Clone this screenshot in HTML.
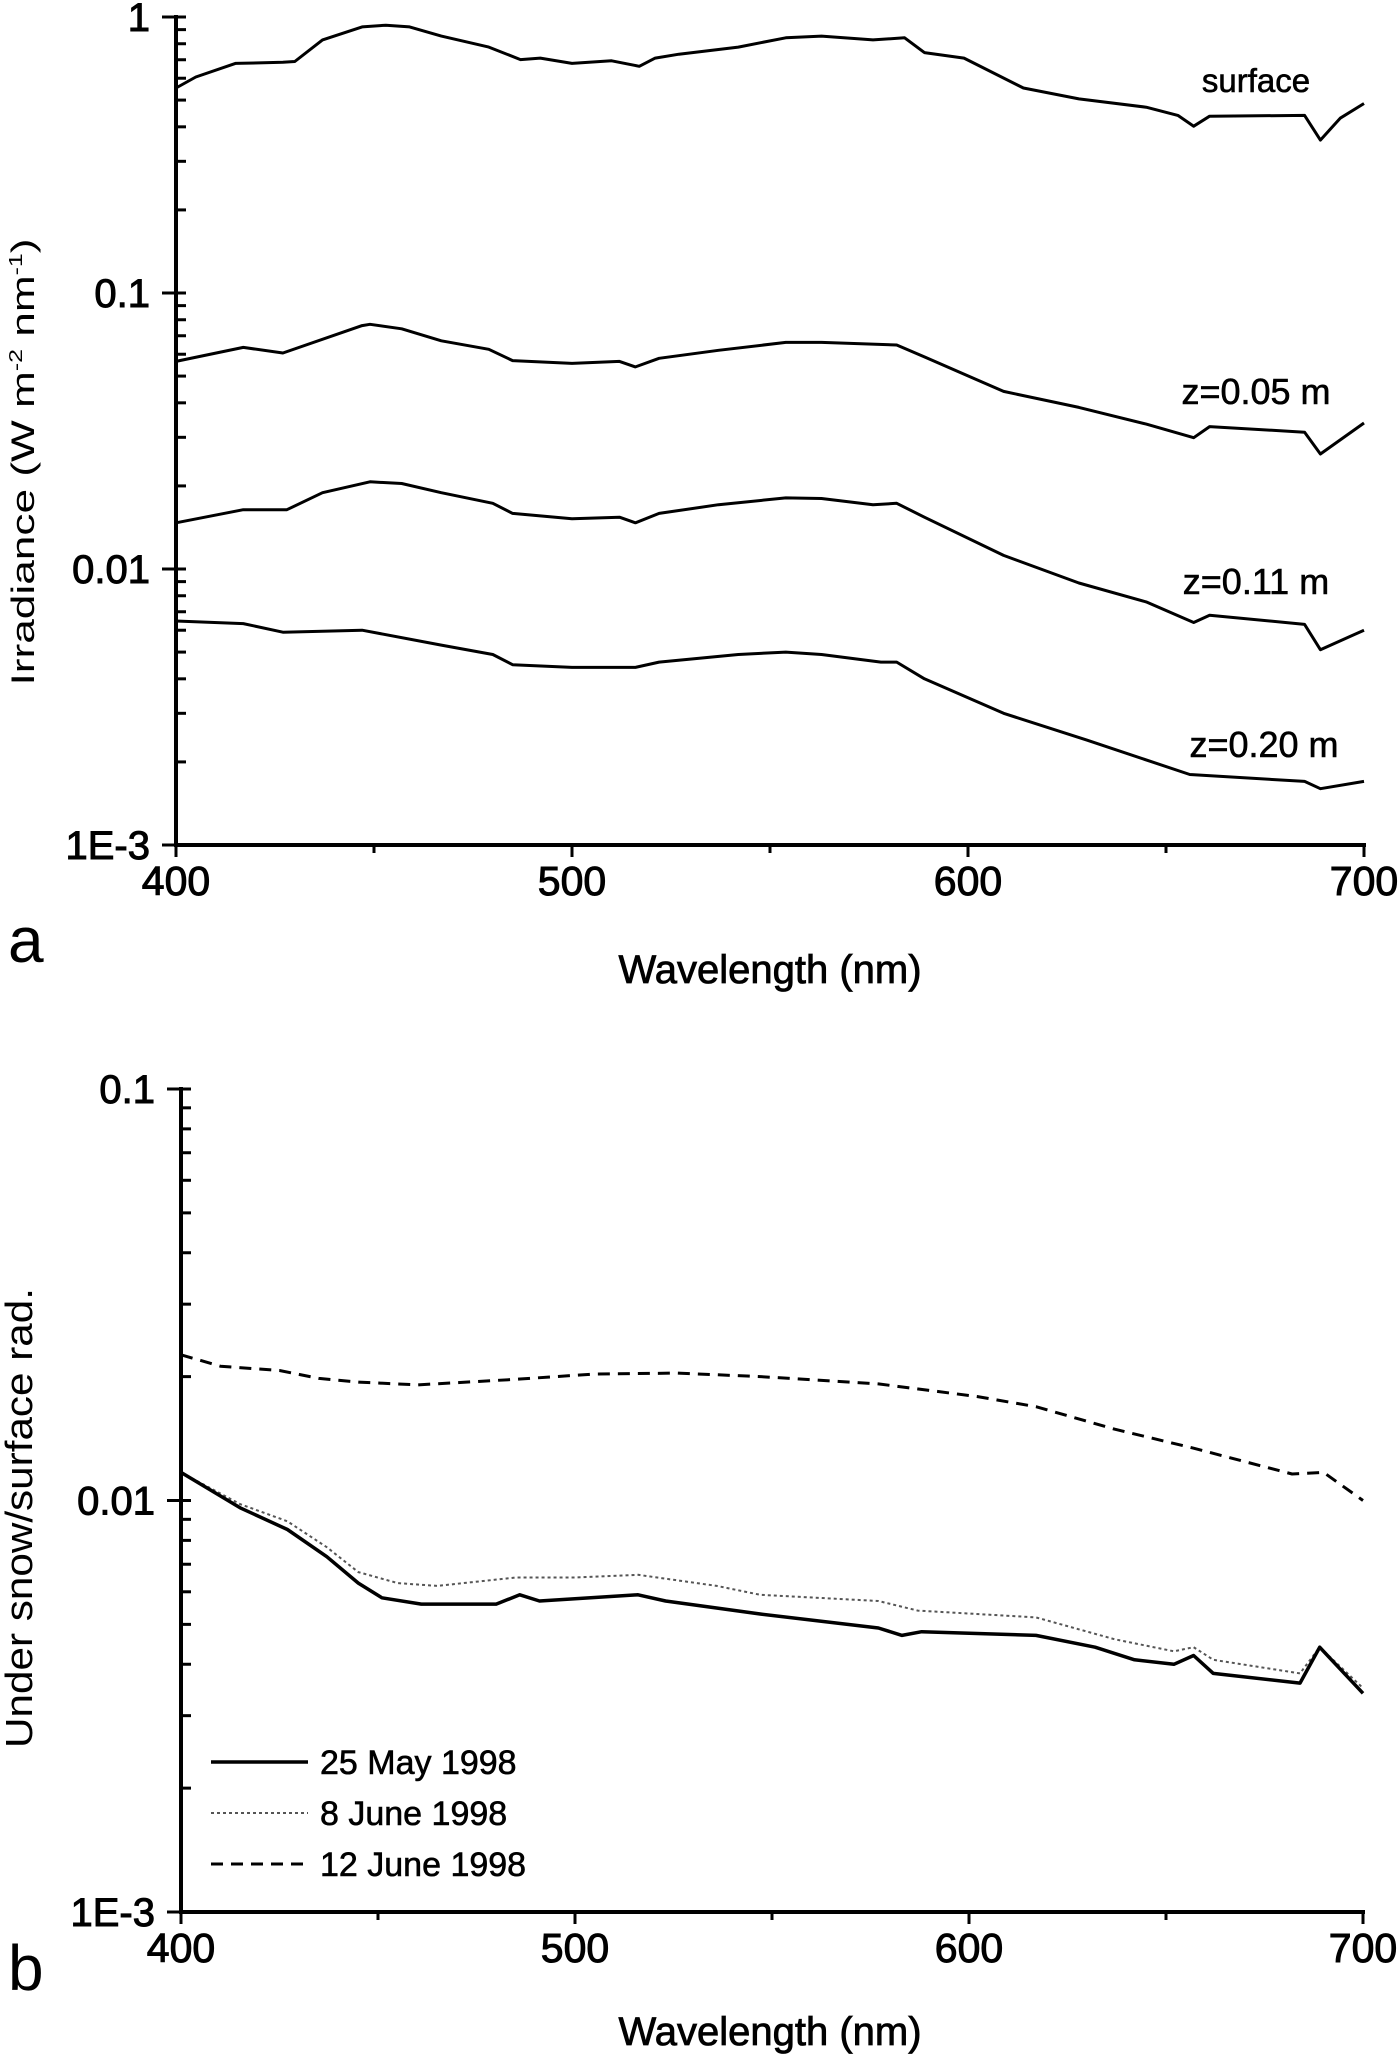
<!DOCTYPE html>
<html><head><meta charset="utf-8"><style>
html,body{margin:0;padding:0;background:#fff}
svg{display:block;font-family:"Liberation Sans",Arial,sans-serif}
</style></head><body>
<svg id="fig" width="1400" height="2062" viewBox="0 0 1400 2062" xmlns="http://www.w3.org/2000/svg">
<g id="pa"></g>
<g id="pb"></g>
</svg>
<script>
// Panel a data (wavelength nm, irradiance W m-2 nm-1)
const aSurfX=[400,405,415,427,430,437,447,453,459,467,479,487,492,500,510,517,521,527,542,554,563,576,584,589,599,614,628,645,653,657,661,685,689,694,700];
const aSurfY=[0.553,0.606,0.679,0.685,0.69,0.826,0.921,0.934,0.921,0.853,0.778,0.701,0.71,0.679,0.694,0.663,0.71,0.733,0.778,0.841,0.853,0.826,0.841,0.743,0.71,0.553,0.505,0.471,0.44,0.402,0.437,0.44,0.358,0.43,0.486];
const a05X=[400,417,427,447,449,457,467,479,485,500,512,516,522,537,554,563,582,589,609,628,645,657,661,685,689,700];
const a05Y=[0.0565,0.0635,0.0606,0.0762,0.077,0.0742,0.0671,0.0625,0.0569,0.0556,0.0565,0.054,0.058,0.062,0.0662,0.0662,0.0648,0.0587,0.044,0.0385,0.0335,0.0299,0.0328,0.0313,0.0261,0.0338];
const a11X=[400,417,428,437,449,457,467,480,485,500,512,516,522,537,554,563,576,582,589,609,628,645,657,661,685,689,700];
const a11Y=[0.0147,0.0164,0.0164,0.0189,0.0207,0.0204,0.0189,0.0173,0.0159,0.0152,0.0154,0.0147,0.0159,0.0171,0.0181,0.018,0.0171,0.0173,0.0154,0.0112,0.0089,0.0076,0.0064,0.0068,0.0063,0.0051,0.006];
const a20X=[400,417,427,447,467,480,485,500,516,522,542,554,563,578,582,589,609,630,656,685,689,700];
const a20Y=[0.00648,0.00634,0.0059,0.006,0.0053,0.0049,0.0045,0.0044,0.0044,0.0046,0.0049,0.005,0.0049,0.0046,0.0046,0.004,0.003,0.0024,0.0018,0.0017,0.0016,0.0017];
// Panel b data (ratio)
const bJune12X=[400,410,425,435,445,460,485,505,526,547,577,602,617,637,657,682,690,700];
const bJune12Y=[0.0226,0.0212,0.0207,0.0198,0.0194,0.0191,0.0197,0.0203,0.0204,0.02,0.0192,0.0179,0.0169,0.0149,0.0134,0.0116,0.0117,0.01];
const bMay25X=[400,415,427,437,445,451,461,480,486,491,516,523,547,577,583,588,617,632,642,652,657,662,684,689,692,700];
const bMay25Y=[0.0117,0.0096,0.0085,0.0073,0.0063,0.0058,0.0056,0.0056,0.0059,0.0057,0.0059,0.0057,0.0053,0.0049,0.0047,0.0048,0.0047,0.0044,0.0041,0.004,0.0042,0.0038,0.0036,0.0044,0.0041,0.0034];
const bJune8X=[400,415,427,437,445,455,465,485,500,516,536,547,577,587,617,637,652,657,662,684,689,700];
const bJune8Y=[0.0117,0.0098,0.0089,0.0077,0.0067,0.0063,0.0062,0.0065,0.0065,0.0066,0.0062,0.0059,0.0057,0.0054,0.0052,0.0046,0.0043,0.0044,0.0041,0.0038,0.0044,0.0035];
const xTicks=["400","500","600","700"];
const aYTicks=["1","0.1","0.01","1E-3"];
const bYTicks=["0.1","0.01","1E-3"];

const NS="http://www.w3.org/2000/svg";
function mk(parent,tag,attrs){const e=document.createElementNS(NS,tag);for(const k in attrs)e.setAttribute(k,attrs[k]);parent.appendChild(e);return e;}

function panel(g,cfg){
  const xs=v=>cfg.x0+(v-400)/300*(cfg.x1-cfg.x0);
  const ys=v=>cfg.yTop+(cfg.dTop-Math.log10(v))/(cfg.dTop-cfg.dBot)*(cfg.yBot-cfg.yTop);
  const ax=mk(g,'line',{x1:xs(400),y1:cfg.yTop-2,x2:xs(400),y2:cfg.yBot+2,stroke:'#000','stroke-width':4});
  
  const bx=mk(g,'line',{x1:xs(400)-2,y1:cfg.yBot,x2:xs(700)+2,y2:cfg.yBot,stroke:'#000','stroke-width':4});
  
  for(let w=400;w<=700;w+=50){
    const maj=(w%100===0);
    const t=mk(g,'line',{x1:xs(w),y1:cfg.yBot,x2:xs(w),y2:cfg.yBot+(maj?12:8),stroke:'#000','stroke-width':3});
    
  }
  xTicks.forEach(s=>{
    const t=mk(g,'text',{x:xs(+s),y:cfg.yBot+50,'font-size':41,'text-anchor':'middle',stroke:'#000','stroke-width':1});
    t.textContent=s;
    
  });
  for(let d=cfg.dTop;d>cfg.dBot;d--){
    for(let m=1;m<10;m++){
      const v=Math.pow(10,d-1)*m;const y=ys(v);
      const t=mk(g,'line',{x1:xs(400),y1:y,x2:xs(400)+10,y2:y,stroke:'#000','stroke-width':3});
      
    }
  }
  cfg.yTicks.forEach(s=>{
    const v=+s;const y=ys(v);
    const tk=mk(g,'line',{x1:xs(400)-14,y1:y,x2:xs(400)+10,y2:y,stroke:'#000','stroke-width':3});
    
    const t=mk(g,'text',{x:xs(400)-26,y:y+14,'font-size':40,'text-anchor':'end',stroke:'#000','stroke-width':1});
    t.textContent=s;
    
  });
  cfg.series.forEach(sr=>{
    let d='';sr.x.forEach((w,i)=>{d+=(i?'L':'M')+xs(w).toFixed(1)+' '+ys(sr.y[i]).toFixed(1);});
    const p=mk(g,'path',{d:d,fill:'none',stroke:sr.color||'#000','stroke-width':sr.w||3,'stroke-dasharray':sr.dash||'none','stroke-linejoin':'round'});
    
  });
  return {xs,ys};
}

const pa=document.getElementById('pa');
panel(pa,{x0:176,x1:1364,yTop:17,yBot:845,dTop:0,dBot:-3,yTicks:aYTicks,series:[
 {name:'surface-line',x:aSurfX,y:aSurfY},
 {name:'z005-line',x:a05X,y:a05Y},
 {name:'z011-line',x:a11X,y:a11Y},
 {name:'z020-line',x:a20X,y:a20Y}]});
const pb=document.getElementById('pb');
panel(pb,{x0:181,x1:1363,yTop:1089,yBot:1912,dTop:-1,dBot:-3,yTicks:bYTicks,series:[
 {name:'june12-line',x:bJune12X,y:bJune12Y,dash:'12 8'},
 {name:'june8-line',x:bJune8X,y:bJune8Y,dash:'3 3',color:'#555',w:2},
 {name:'may25-line',x:bMay25X,y:bMay25Y,w:3.5}]});

function txt(g,x,y,s,size,name,extra){const t=mk(g,'text',Object.assign({x:x,y:y,'font-size':size},extra||{}));t.textContent=s;
 return t;}
txt(pa,1256,92,'surface',33,'label-surface',{'text-anchor':'middle',stroke:'#000','stroke-width':0.6});
txt(pa,1256,404,'z=0.05 m',36,'label-z005',{'text-anchor':'middle',stroke:'#000','stroke-width':0.6});
txt(pa,1256,594,'z=0.11 m',36,'label-z011',{'text-anchor':'middle',stroke:'#000','stroke-width':0.6});
txt(pa,1264,757,'z=0.20 m',36,'label-z020',{'text-anchor':'middle',stroke:'#000','stroke-width':0.6});
txt(pa,770,983,'Wavelength (nm)',40,'x-axis-title',{'text-anchor':'middle',stroke:'#000','stroke-width':0.8});
txt(pa,8,962,'a',64,'panel-label-a');
txt(pb,770,2045,'Wavelength (nm)',40,'x-axis-title',{'text-anchor':'middle',stroke:'#000','stroke-width':0.8});
txt(pb,8,1990,'b',64,'panel-label-b');
const yt=mk(pa,'text',{x:0,y:0,'font-size':32,'text-anchor':'middle',transform:'translate(34,462) rotate(-90)',textLength:447,lengthAdjust:'spacingAndGlyphs'});

yt.innerHTML='Irradiance (W m<tspan dy="-12" font-size="18">-2</tspan><tspan dy="12"> nm</tspan><tspan dy="-12" font-size="18">-1</tspan><tspan dy="12">)</tspan>';
const yt2=mk(pb,'text',{x:0,y:0,'font-size':38,'text-anchor':'middle',transform:'translate(32,1518) rotate(-90)',textLength:460,lengthAdjust:'spacingAndGlyphs'});
yt2.textContent='Under snow/surface rad.';

const leg=mk(pb,'g',{});

const legNames=['25 May 1998','8 June 1998','12 June 1998'];
const legStyles=[{d:'none',c:'#000',w:3.5},{d:'3 3',c:'#555',w:2},{d:'12 8',c:'#000',w:3}];
legNames.forEach((s,i)=>{
 const y=1762+i*51;
 const l=mk(leg,'line',{x1:211,y1:y,x2:308,y2:y,stroke:legStyles[i].c,'stroke-width':legStyles[i].w,'stroke-dasharray':legStyles[i].d});
 
 const t=mk(leg,'text',{x:320,y:y+12,'font-size':34,stroke:'#000','stroke-width':0.6});t.textContent=s;
 
});
</script>
</body></html>
